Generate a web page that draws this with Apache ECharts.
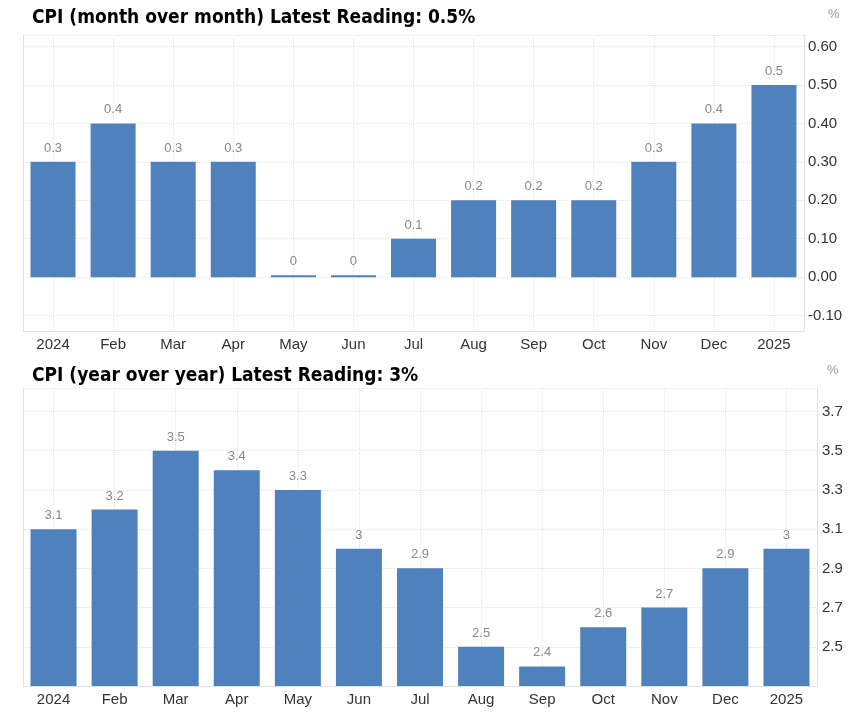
<!DOCTYPE html>
<html>
<head>
<meta charset="utf-8">
<script src="https://cdn.jsdelivr.net/npm/echarts@6/dist/echarts.min.js"></script>
<style>
html,body{margin:0;padding:0;background:#fff;}
#chart{width:849px;height:712px;}
</style>
</head>
<body>
<div id="chart"></div>
<script>
const categories = ['2024','Feb','Mar','Apr','May','Jun','Jul','Aug','Sep','Oct','Nov','Dec','2025'];
const momValues = [0.3, 0.4, 0.3, 0.3, 0.005, 0.005, 0.1, 0.2, 0.2, 0.2, 0.3, 0.4, 0.5];
const yoyValues = [3.1, 3.2, 3.5, 3.4, 3.3, 3.0, 2.9, 2.5, 2.4, 2.6, 2.7, 2.9, 3.0];
const momTitle = 'CPI (month over month)';
const momLatest = 'Latest Reading: 0.5%';
const yoyTitle = 'CPI (year over year)';
const yoyLatest = 'Latest Reading: 3%';

const barColor = '#4f81bd';
const gridLineColor = '#e3e3e3';
const borderColor = '#e0e0e0';
const labelFont = 'Liberation Sans, Arial, sans-serif';
const titleFont = '"DejaVu Sans Condensed", "DejaVu Sans", sans-serif';

const chart = echarts.init(document.getElementById('chart'), null, {renderer: 'canvas'});

function fmtVal(v) { return String(Math.round(v * 10) / 10); }

const titleStyle = {fontFamily: titleFont, fontWeight: 'bold', fontSize: 19, color: '#000'};

function hiddenValueX(gridIndex) {
  return {
    type: 'value', gridIndex: gridIndex, min: -0.5, max: 12.5, minInterval: 1, maxInterval: 1,
    axisLabel: {show: false}, axisLine: {show: false, onZero: false}, axisTick: {show: false},
    splitLine: {show: true, lineStyle: {color: gridLineColor, type: 'dotted'}}
  };
}
function catX(gridIndex) {
  return {
    type: 'category', gridIndex: gridIndex, data: categories,
    axisLine: {show: true, onZero: false, lineStyle: {color: borderColor}},
    axisTick: {show: false},
    splitLine: {show: false},
    axisLabel: {color: '#333', fontSize: 15, fontFamily: labelFont, margin: 6}
  };
}

const option = {
  animation: false,
  backgroundColor: '#fff',
  title: [
    {text: momTitle + ' ' + momLatest, left: 32, top: 9, padding: 0, textStyle: titleStyle},
    {text: yoyTitle + ' ' + yoyLatest, left: 32, top: 367, padding: 0, textStyle: titleStyle},
    {text: '%', left: 828, top: 8, padding: 0, textStyle: {fontFamily: labelFont, fontSize: 13, fontWeight: 'normal', color: '#999'}},
    {text: '%', left: 827, top: 364, padding: 0, textStyle: {fontFamily: labelFont, fontSize: 13, fontWeight: 'normal', color: '#999'}}
  ],
  grid: [
    {left: 23, right: 45, top: 35, height: 296, containLabel: false},
    {left: 23, right: 32, top: 388, height: 298, containLabel: false}
  ],
  xAxis: [catX(0), catX(1), hiddenValueX(0), hiddenValueX(1)],
  yAxis: [
    {
      type: 'value', gridIndex: 0, position: 'right', min: -0.14, max: 0.63,
      minInterval: 0.1, maxInterval: 0.1,
      axisLine: {show: true, onZero: false, lineStyle: {color: borderColor}}, axisTick: {show: false},
      splitLine: {show: true, lineStyle: {color: gridLineColor, type: 'dotted'}},
      axisLabel: {color: '#333', fontSize: 15, fontFamily: labelFont, margin: 4, showMinLabel: false, showMaxLabel: false,
        padding: [0, 0, 3, 0], formatter: function (v) { return v.toFixed(2); }}
    },
    {
      type: 'value', gridIndex: 1, position: 'right', min: 2.3, max: 3.82, interval: 0.2,
      axisLine: {show: true, onZero: false, lineStyle: {color: borderColor}}, axisTick: {show: false},
      splitLine: {show: true, lineStyle: {color: gridLineColor, type: 'dotted'}},
      axisLabel: {color: '#333', fontSize: 15, fontFamily: labelFont, margin: 5, showMinLabel: false, showMaxLabel: false,
        padding: [0, 0, 3, 0], formatter: function (v) { return v.toFixed(1); }}
    },
    {
      type: 'value', gridIndex: 0, position: 'left', min: -0.14, max: 0.63,
      axisLine: {show: true, onZero: false, lineStyle: {color: borderColor}}, axisTick: {show: false},
      axisLabel: {show: false}, splitLine: {show: false}
    },
    {
      type: 'value', gridIndex: 1, position: 'left', min: 2.3, max: 3.82,
      axisLine: {show: true, onZero: false, lineStyle: {color: borderColor}}, axisTick: {show: false},
      axisLabel: {show: false}, splitLine: {show: false}
    }
  ],
  series: [
    {
      type: 'bar', xAxisIndex: 0, yAxisIndex: 0, data: momValues, barWidth: 45,
      itemStyle: {color: barColor},
      label: {show: true, position: 'top', distance: 7, color: '#888', fontSize: 13, fontFamily: labelFont,
        formatter: function (p) { return fmtVal(p.value); }}
    },
    {
      type: 'bar', xAxisIndex: 1, yAxisIndex: 1, data: yoyValues, barWidth: 46,
      itemStyle: {color: barColor},
      label: {show: true, position: 'top', distance: 7, color: '#888', fontSize: 13, fontFamily: labelFont,
        formatter: function (p) { return fmtVal(p.value); }}
    }
  ]
};
chart.setOption(option);
</script>
</body>
</html>
